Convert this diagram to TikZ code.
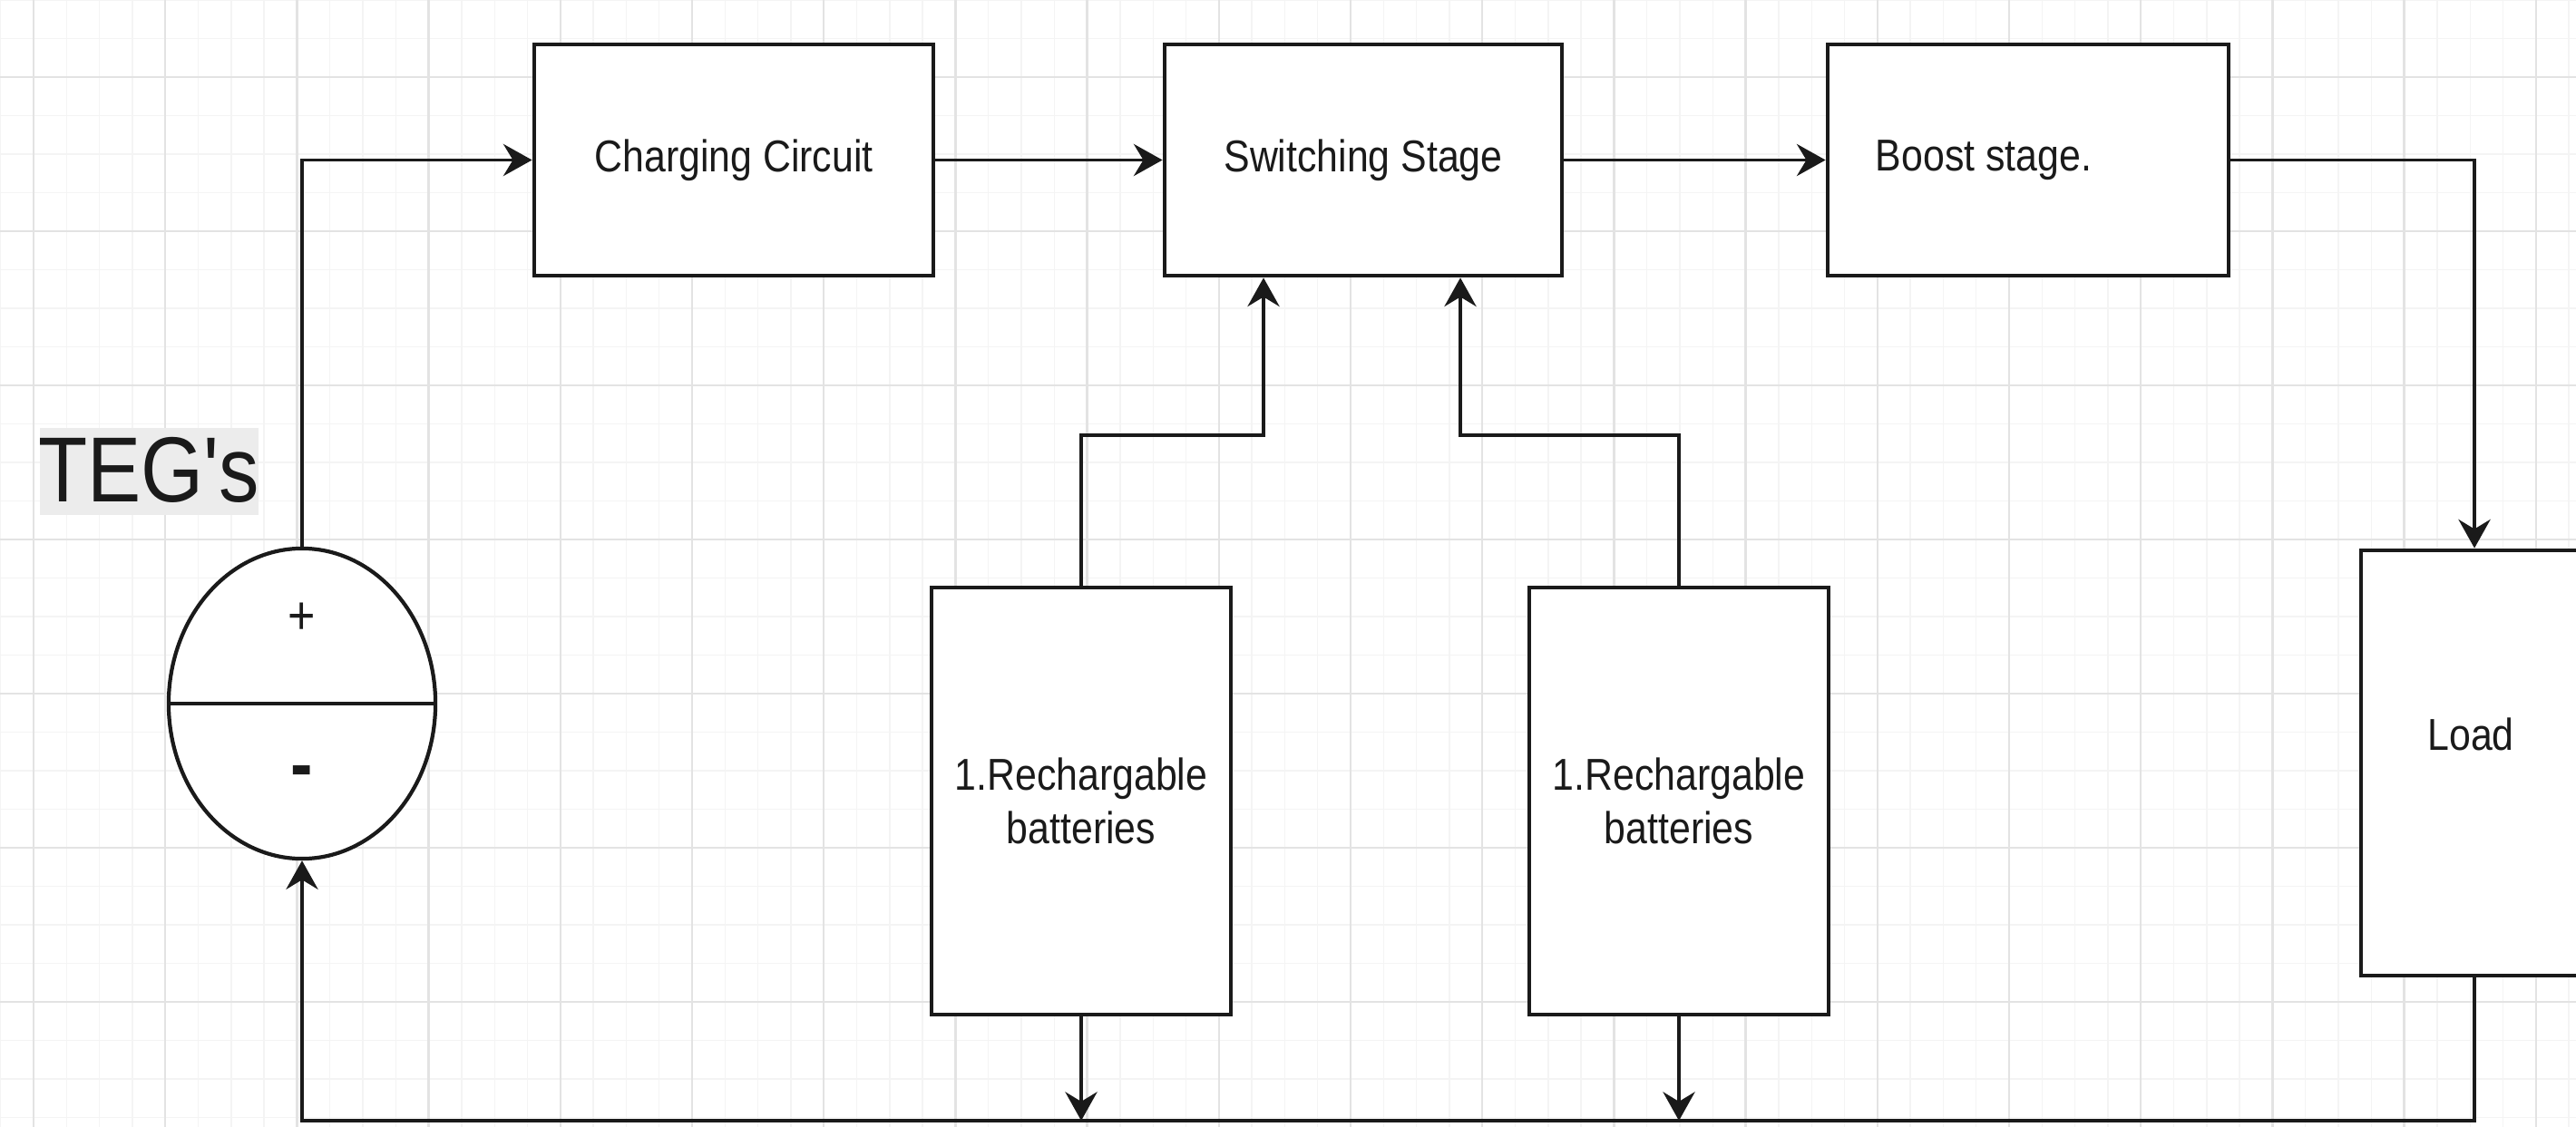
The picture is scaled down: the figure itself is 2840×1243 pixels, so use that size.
\documentclass[tikz,border=0pt]{standalone}
\usepackage{fontspec}
\setmainfont{Liberation Sans}[FakeStretch=0.87]
\newfontfamily\tegfont{Liberation Sans}[FakeStretch=0.87,Ligatures=ResetAll]
\usetikzlibrary{arrows.meta,shapes.geometric}
\definecolor{ink}{HTML}{1A1A1A}
\definecolor{gridmaj}{HTML}{E3E3E3}
\definecolor{gridmin}{HTML}{F4F4F4}
\definecolor{teghl}{HTML}{ECECEC}
\begin{document}
\begin{tikzpicture}[x=0.01cm,y=-0.01cm,
  box/.style={draw=ink,line width=1.3pt,fill=white,rectangle,inner sep=0pt,font=\fontsize{14pt}{16.8pt}\selectfont,text=ink,align=center},
  lbl/.style={font=\fontsize{14pt}{16.8pt}\selectfont,text=ink,inner sep=0pt},
  arr/.style={draw=ink,line width=1.1pt,-{Stealth[length=9pt,width=10pt,inset=3pt]}},
  wire/.style={draw=ink,line width=1.1pt}]
\clip (0,0) rectangle (2840,1243);
\fill[white] (0,0) rectangle (2840,1243);
% grid
\foreach \i in {0,...,78} \draw[gridmin,line width=0.4pt] ({0.7+36.3*\i},0) -- ({0.7+36.3*\i},1243);
\foreach \j in {0,...,29} \draw[gridmin,line width=0.4pt] (0,{42.5*\j}) -- (2840,{42.5*\j});
\foreach \k in {0,...,19} \draw[gridmaj,line width=0.7pt] ({37+145.2*\k},0) -- ({37+145.2*\k},1243);
\foreach \k in {0,...,6} \draw[gridmaj,line width=0.7pt] (0,{85+170*\k}) -- (2840,{85+170*\k});

% blocks
\node[box,minimum width=44mm,minimum height=25.5mm] (cc) at (809,176.5) {Charging Circuit};
\node[box,minimum width=43.8mm,minimum height=25.5mm] (sw) at (1503,176.5) {Switching Stage};
\node[box,minimum width=44.2mm,minimum height=25.5mm] (bs) at (2236,176.5) {};
\node[lbl] (bslab) at (2187,176.5) {Boost stage.};
\node[box,minimum width=33mm,minimum height=47.1mm] (b1) at (1192,883.5) {1.Rechargable\\batteries};
\node[box,minimum width=33mm,minimum height=47.1mm] (b2) at (1851,883.5) {1.Rechargable\\batteries};
\node[box,minimum width=25mm,minimum height=46.9mm] (load) at (2728,841.5) {};
\node[lbl] (loadlab) at (2724,810) {Load};

% TEG source
\fill[teghl] (44,472) rectangle (285,568);
\node[inner sep=0pt,text=ink,font=\tegfont\fontsize{29pt}{34pt}\selectfont] (teglab) at (164,518) {TEG's};
\node[draw=ink,line width=1.2pt,fill=white,ellipse,inner sep=0pt,minimum width=29.4mm,minimum height=34.2mm] (teg) at (333,776) {};
\draw[wire] (teg.west) -- (teg.east);
\node[lbl,font=\fontsize{17pt}{20pt}\selectfont] (plus) at (333,682) {+};
\node[lbl,font=\bfseries\fontsize{24pt}{28pt}\selectfont] (minus) at (333,858) {-};

% connectors
\coordinate (bot) at (0,1236);
\draw[arr] (teg.north) |- (cc.west);
\draw[arr] (cc.east) -- (sw.west);
\draw[arr] (sw.east) -- (bs.west);
\draw[arr] (bs.east) -| (load.north);
\draw[arr] (b1.north) |- (1393,480) -- (1393,0 |- sw.south);
\draw[arr] (b2.north) |- (1610,480) -- (1610,0 |- sw.south);
\draw[arr] (load.south) -- (load.south |- bot) -- (teg.south |- bot) -- (teg.south);
\draw[arr] (b1.south) -- (b1.south |- bot);
\draw[arr] (b2.south) -- (b2.south |- bot);
\end{tikzpicture}
\end{document}
